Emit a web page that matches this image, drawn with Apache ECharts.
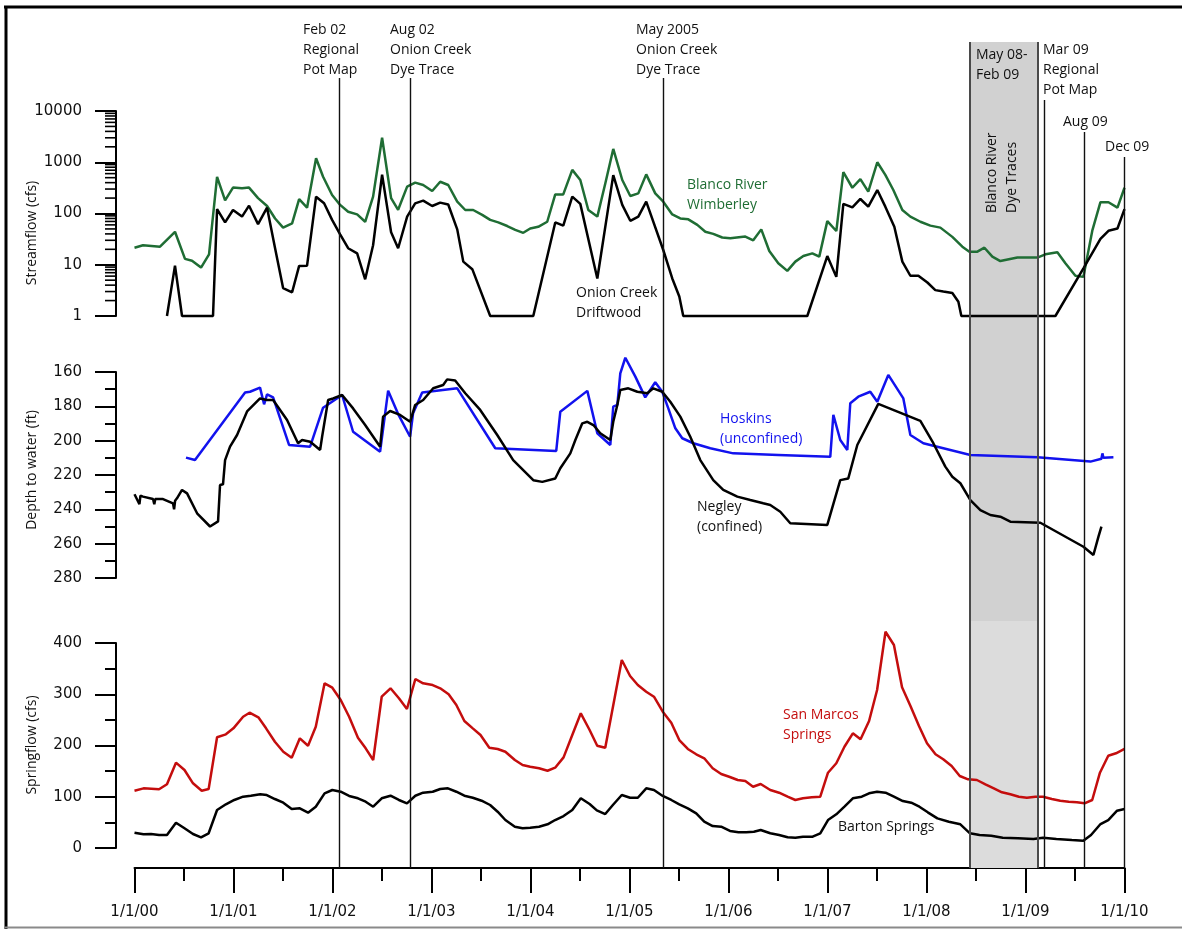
<!DOCTYPE html>
<html><head><meta charset="utf-8">
<script src="https://cdn.jsdelivr.net/npm/echarts@6/dist/echarts.min.js"></script>
<style>html,body{margin:0;padding:0;background:#fff}#c{width:1182px;height:929px}</style>
</head><body><div id="c"></div>
<script>
// ---------- DATA (x = decimal year) ----------
const xTickLabels = ['1/1/00','1/1/01','1/1/02','1/1/03','1/1/04','1/1/05','1/1/06','1/1/07','1/1/08','1/1/09','1/1/10'];
const streamTicks = [1,10,100,1000,10000];
const logMinorTicks = [2,3,4,5,6,7,8,9,20,30,40,50,60,70,80,90,200,300,400,500,600,700,800,900,2000,3000,4000,5000,6000,7000,8000,9000];

const blancoWimberley = [[2000.0,21.5],[2000.086,24],[2000.258,22.5],[2000.409,44],[2000.510,13],[2000.581,12],[2000.672,8.8],[2000.753,16],[2000.834,520],[2000.915,180],[2000.995,320],[2001.086,310],[2001.157,320],[2001.248,200],[2001.339,140],[2001.420,80],[2001.501,53],[2001.592,64],[2001.663,190],[2001.743,130],[2001.834,1200],[2001.905,520],[2001.996,230],[2002.077,147],[2002.158,108],[2002.249,96],[2002.330,69],[2002.410,213],[2002.501,3000],[2002.592,200],[2002.663,118],[2002.754,335],[2002.835,400],[2002.916,360],[2003.007,275],[2003.088,416],[2003.169,360],[2003.260,170],[2003.341,117],[2003.421,117],[2003.512,94],[2003.593,75],[2003.674,67],[2003.765,57],[2003.846,48],[2003.927,42],[2003.997,51],[2004.078,55],[2004.169,69],[2004.250,236],[2004.331,236],[2004.422,710],[2004.503,450],[2004.584,117],[2004.675,87],[2004.756,390],[2004.836,1820],[2004.927,450],[2005.008,220],[2005.089,247],[2005.169,580],[2005.260,247],[2005.341,170],[2005.432,96],[2005.513,80],[2005.594,77],[2005.685,60],[2005.766,44],[2005.846,40],[2005.937,34],[2006.018,33],[2006.170,35.5],[2006.250,30],[2006.331,49],[2006.412,18.5],[2006.503,10.7],[2006.594,7.6],[2006.675,11.5],[2006.756,14.8],[2006.847,16.7],[2006.917,14.4],[2006.998,71],[2007.089,45.5],[2007.160,640],[2007.251,318],[2007.332,470],[2007.412,267],[2007.503,1000],[2007.584,565],[2007.665,287],[2007.756,117],[2007.837,87],[2007.938,69],[2008.039,58],[2008.140,53],[2008.261,35],[2008.362,22.5],[2008.433,18],[2008.514,18],[2008.585,21.5],[2008.665,14.4],[2008.746,11.8],[2008.918,13.8],[2009.120,13.8],[2009.201,16],[2009.322,17.5],[2009.403,10.7],[2009.504,6.1],[2009.585,5.8],[2009.676,47.5],[2009.757,166],[2009.838,166],[2009.929,130],[2010.0,318]];

const onionDriftwood = [[2000.328,1],[2000.409,9.6],[2000.480,1],[2000.793,1],[2000.834,122],[2000.915,67],[2000.995,117],[2001.086,87],[2001.157,142],[2001.248,62],[2001.339,130],[2001.420,21],[2001.501,3.5],[2001.592,2.9],[2001.663,9.5],[2001.743,9.6],[2001.834,213],[2001.915,158],[2001.996,75],[2002.077,39],[2002.158,21],[2002.249,16.7],[2002.330,5.2],[2002.410,24],[2002.501,570],[2002.592,43],[2002.663,21],[2002.754,87],[2002.835,158],[2002.916,178],[2003.007,140],[2003.088,163],[2003.169,150],[2003.260,49],[2003.321,11.5],[2003.412,8.2],[2003.593,1],[2004.028,1],[2004.250,67],[2004.331,58],[2004.422,213],[2004.503,154],[2004.675,5.4],[2004.836,560],[2004.927,147],[2005.008,72],[2005.089,87],[2005.169,170],[2005.341,19.4],[2005.432,5.4],[2005.503,2.4],[2005.543,1],[2006.796,1],[2006.998,14.8],[2007.089,5.8],[2007.160,154],[2007.251,132],[2007.332,192],[2007.412,136],[2007.503,287],[2007.584,136],[2007.675,55],[2007.756,11.5],[2007.837,6.1],[2007.918,6.1],[2008.009,4.5],[2008.089,3.2],[2008.170,3.0],[2008.261,2.8],[2008.322,1.9],[2008.352,1],[2009.302,1],[2009.585,8.5],[2009.757,32],[2009.838,46],[2009.929,51],[2010.0,122]];

const negleyDepth = [[2000.0,231.2],[2000.05,237],[2000.06,232],[2000.086,232.6],[2000.187,234],[2000.20,237],[2000.21,234],[2000.288,234],[2000.389,236.5],[2000.40,240],[2000.41,235],[2000.429,233.6],[2000.480,228.7],[2000.531,230.7],[2000.632,242.3],[2000.763,250],[2000.844,247],[2000.864,225.8],[2000.894,225.4],[2000.915,211.3],[2000.965,203.5],[2001.036,196.7],[2001.137,183],[2001.268,175.4],[2001.339,176.3],[2001.400,176.3],[2001.541,188],[2001.652,201.5],[2001.693,199.6],[2001.774,200.6],[2001.824,203],[2001.875,205.4],[2001.895,197.7],[2001.956,176.3],[2002.006,175.4],[2002.097,173.4],[2002.208,181.2],[2002.330,190.9],[2002.481,203.5],[2002.511,186],[2002.582,182.7],[2002.683,185],[2002.784,189],[2002.835,179.2],[2002.916,176.3],[2003.017,169.5],[2003.118,167.6],[2003.158,164.3],[2003.239,165],[2003.341,172.4],[2003.492,182.1],[2003.664,196.7],[2003.825,211.3],[2004.028,223],[2004.119,224],[2004.250,222],[2004.301,216.1],[2004.402,207.4],[2004.453,199.6],[2004.523,189.9],[2004.574,189],[2004.635,190.9],[2004.705,195.7],[2004.806,199.6],[2004.836,189],[2004.877,179.2],[2004.907,170.5],[2004.988,169.5],[2005.079,171.5],[2005.180,172.4],[2005.240,169.5],[2005.331,171.5],[2005.412,177.3],[2005.513,186],[2005.614,197.7],[2005.715,211.3],[2005.846,223],[2005.947,228.7],[2006.089,232.6],[2006.220,234.6],[2006.351,236.5],[2006.422,237.5],[2006.523,241.4],[2006.624,248.1],[2006.998,249.1],[2007.129,223],[2007.210,222],[2007.301,202.5],[2007.513,178.6],[2007.938,188.5],[2008.069,201.5],[2008.190,215.1],[2008.261,221],[2008.342,224.8],[2008.443,234.6],[2008.544,240.4],[2008.645,243.3],[2008.746,244.3],[2008.847,247.2],[2009.150,247.8],[2009.585,261.8],[2009.686,266.6],[2009.737,255.9],[2009.767,250.1]];

const hoskinsDepth = [[2000.520,209.9],[2000.611,211.3],[2001.117,172],[2001.167,171.5],[2001.268,169.1],[2001.309,178.8],[2001.339,173],[2001.400,174.8],[2001.561,202.5],[2001.774,203.5],[2001.905,180.8],[2002.097,173.4],[2002.208,194.8],[2002.481,206.4],[2002.562,170.9],[2002.663,184.5],[2002.784,197.7],[2002.814,184],[2002.906,172],[2003.260,169.5],[2003.644,204.4],[2004.260,206],[2004.301,183.1],[2004.574,171],[2004.675,195.7],[2004.806,202.5],[2004.836,180.2],[2004.877,179.2],[2004.907,160.8],[2004.958,151.7],[2005.059,162.7],[2005.159,174.8],[2005.260,166],[2005.331,171.5],[2005.392,181.2],[2005.463,192.8],[2005.533,198.6],[2005.645,201.5],[2005.816,204.4],[2006.048,207.4],[2006.503,208.3],[2007.028,209.4],[2007.059,185],[2007.129,199.6],[2007.200,205.4],[2007.230,178.2],[2007.311,174.4],[2007.432,171.5],[2007.503,177.3],[2007.614,161.7],[2007.766,175.4],[2007.837,196.7],[2007.968,201.5],[2008.170,204.4],[2008.443,208.3],[2009.120,209.7],[2009.656,212.2],[2009.767,210.5],[2009.777,207.4],[2009.787,210],[2009.888,209.7]];

const sanMarcos = [[2000.0,111.8],[2000.091,116.4],[2000.248,114.5],[2000.328,124.3],[2000.419,166.5],[2000.505,152.2],[2000.591,126.2],[2000.679,111.8],[2000.749,115],[2000.834,216],[2000.923,221.8],[2000.999,233.5],[2001.097,256.2],[2001.162,264],[2001.251,255],[2001.329,233.5],[2001.418,207.4],[2001.503,187.9],[2001.588,176.2],[2001.670,214],[2001.753,199.6],[2001.831,236.7],[2001.920,321.3],[2001.998,312.8],[2002.083,288.8],[2002.168,256.2],[2002.257,215.2],[2002.335,194.5],[2002.411,171.7],[2002.497,295.2],[2002.586,311.6],[2002.671,292.1],[2002.752,271.2],[2002.837,329.7],[2002.915,321.3],[2003.012,318],[2003.088,311.6],[2003.173,299.9],[2003.251,279],[2003.332,247.8],[2003.417,233.5],[2003.495,220.5],[2003.584,195.7],[2003.668,193.2],[2003.746,187.9],[2003.842,171.7],[2003.920,161.9],[2003.997,158.6],[2004.086,155.5],[2004.172,150.8],[2004.249,156.7],[2004.334,176.9],[2004.422,220.5],[2004.508,262.8],[2004.597,230.2],[2004.674,199.6],[2004.755,195.7],[2004.922,366.8],[2005.006,335.6],[2005.084,318],[2005.169,305],[2005.247,295.2],[2005.336,266],[2005.422,244.5],[2005.503,210.7],[2005.589,193.2],[2005.674,182.8],[2005.755,175],[2005.840,155.5],[2005.926,144.4],[2006.007,139.1],[2006.093,132.7],[2006.170,130.7],[2006.248,119.6],[2006.325,124.9],[2006.422,113.2],[2006.511,107.9],[2006.597,100.1],[2006.675,93.7],[2006.752,97],[2006.842,98.9],[2006.927,100.1],[2007.005,146.9],[2007.089,165.3],[2007.171,197.6],[2007.256,223.8],[2007.334,212.1],[2007.420,247.8],[2007.501,308.3],[2007.586,422],[2007.671,396.1],[2007.753,313.5],[2007.838,277],[2007.924,238],[2008.005,204.3],[2008.091,182.8],[2008.169,173.1],[2008.254,160],[2008.336,140.5],[2008.420,134],[2008.509,132.7],[2008.595,124.3],[2008.680,116.5],[2008.762,108.7],[2008.847,104.8],[2008.933,100.1],[2009.014,98.1],[2009.100,100.1],[2009.177,100.1],[2009.266,95.6],[2009.351,92.3],[2009.437,90.3],[2009.519,89.2],[2009.596,87.2],[2009.674,93.7],[2009.752,146.9],[2009.836,180.1],[2009.914,184.8],[2010.0,193.2]];

const bartonSprings = [[2000.0,29.9],[2000.091,26.7],[2000.167,27.3],[2000.248,25.4],[2000.328,25.4],[2000.419,49.4],[2000.505,38.4],[2000.591,27.3],[2000.672,20.9],[2000.749,28.7],[2000.834,74.1],[2000.923,85.3],[2001.008,93.7],[2001.097,100.1],[2001.175,102],[2001.270,104.8],[2001.336,103.4],[2001.418,95.6],[2001.503,88.4],[2001.588,76.1],[2001.670,77.4],[2001.753,68.9],[2001.831,80.6],[2001.920,106.7],[2001.998,113.2],[2002.083,109.8],[2002.168,101.5],[2002.257,97],[2002.335,90.3],[2002.411,80.6],[2002.497,97],[2002.586,102],[2002.671,93.7],[2002.752,87.2],[2002.837,102],[2002.915,107.9],[2003.012,109.8],[2003.088,115.1],[2003.166,116.4],[2003.251,109.8],[2003.332,102],[2003.417,98.1],[2003.506,92.3],[2003.592,83.9],[2003.668,70.8],[2003.746,54.6],[2003.842,41.6],[2003.920,38.4],[2003.997,39.6],[2004.086,41.6],[2004.172,46.2],[2004.249,54.6],[2004.334,62.4],[2004.422,74.1],[2004.508,97],[2004.597,85.8],[2004.670,73.5],[2004.755,66.3],[2004.832,83.9],[2004.922,103.4],[2005.006,98.1],[2005.084,98.1],[2005.169,116.5],[2005.247,113.2],[2005.336,101.5],[2005.422,93.7],[2005.503,85.3],[2005.589,77.4],[2005.674,67.7],[2005.755,51.3],[2005.840,42.9],[2005.926,41.6],[2006.015,33.2],[2006.101,30.6],[2006.178,30.6],[2006.256,31.8],[2006.325,35.1],[2006.422,28.7],[2006.511,25.4],[2006.597,20.9],[2006.675,20.1],[2006.752,22],[2006.850,22],[2006.927,28.7],[2007.005,54.6],[2007.089,65.7],[2007.171,80.6],[2007.256,97],[2007.346,100.1],[2007.420,106.7],[2007.501,109.8],[2007.586,107.9],[2007.671,100.1],[2007.761,91.7],[2007.846,88.4],[2007.928,80.6],[2008.013,69.6],[2008.110,57.9],[2008.226,51.3],[2008.342,46.2],[2008.439,28.7],[2008.536,25.4],[2008.654,24],[2008.770,20.1],[2008.924,18.9],[2009.080,17.6],[2009.177,20.1],[2009.312,17.6],[2009.468,15.6],[2009.584,14.2],[2009.662,25.4],[2009.758,46.8],[2009.836,54.6],[2009.925,72.8],[2010.0,76.1]];

const eventDates = [2002.067, 2002.784, 2005.341, 2009.191, 2009.595, 2009.995];
const eventNames = ['Feb 02\nRegional\nPot Map','Aug 02\nOnion Creek\nDye Trace','May 2005\nOnion Creek\nDye Trace','Mar 09\nRegional\nPot Map','Aug 09','Dec 09'];
const dyeTraceSpan = [2008.433, 2009.120];
const dyeTraceName = 'May 08-\nFeb 09';
const dyeTraceLabel = 'Blanco River\nDye Traces';

// ---------- STYLE / LAYOUT ----------
const GREEN = '#1f6d34', BLUE = '#1212ee', RED = '#c40d0d';
const LEFT = 134.5, RIGHT = 57.5, YOFF = 18.5;
const eventTops = [78, 78, 78, 100, 132, 157];
const eventLabelPos = [[303,20],[390,20],[636,20],[1043,40],[1063,112],[1105,137]];
const AXIS_BOTTOM = 868;
const tickFont = {fontFamily:'DejaVu Sans', fontSize:15, color:'#111'};

const chart = echarts.init(document.getElementById('c'), null, {renderer:'canvas'});

function yAxisBase(grid) {
  return {
    gridIndex: grid, offset: YOFF,
    axisLine: {show:true, lineStyle:{color:'#000', width:2}},
    axisTick: {show:true, inside:false, length:21, lineStyle:{color:'#000', width:2}},
    axisLabel: Object.assign({margin:34, formatter: v => String(v)}, tickFont),
    splitLine: {show:false}
  };
}
function hiddenX(grid) {
  return {type:'value', gridIndex:grid, min:2000, max:2010, interval:1, show:false, splitLine:{show:false}};
}
function lineSeries(name, data, xi, color) {
  return {name, type:'line', xAxisIndex:xi, yAxisIndex:xi, z:3, clip:false, data, showSymbol:false,
    silent:true, lineStyle:{color, width:2.5}};
}

const overlayLines = eventDates.map((d,i)=>[{coord:[d, eventTops[i]]},{coord:[d, AXIS_BOTTOM]}]);
const bandEdges = dyeTraceSpan.map(d=>[{coord:[d, 42], lineStyle:{color:'#4a4a4a', width:2}},{coord:[d, AXIS_BOTTOM]}]);

const option = {
  animation: false,
  backgroundColor: '#fff',
  grid: [
    {left:LEFT, right:RIGHT, top:111, height:205},
    {left:LEFT, right:RIGHT, top:372, height:206},
    {left:LEFT, right:RIGHT, top:643, height:205},
    {left:LEFT, right:RIGHT, top:0, height:AXIS_BOTTOM}
  ],
  xAxis: [
    hiddenX(0), hiddenX(1),
    {
      type:'value', gridIndex:2, min:2000, max:2010, interval:1, offset:20,
      axisLine:{show:true, onZero:false, lineStyle:{color:'#000', width:2}},
      axisTick:{show:true, inside:false, length:25, lineStyle:{color:'#000', width:2}},
      minorTick:{show:true, splitNumber:2, length:13, lineStyle:{color:'#000', width:2}},
      axisLabel: Object.assign({margin:37, showMinLabel:true, showMaxLabel:true,
        formatter: v => xTickLabels[Math.round(v-2000)]}, tickFont),
      splitLine:{show:false}, minorSplitLine:{show:false}
    },
    hiddenX(3)
  ],
  yAxis: [
    Object.assign(yAxisBase(0), {type:'log', logBase:10, min:streamTicks[0], max:streamTicks[streamTicks.length-1]}),
    Object.assign(yAxisBase(1), {type:'value', min:160, max:280, interval:20, inverse:true,
      minorTick:{show:true, splitNumber:2, length:11, lineStyle:{color:'#000', width:2}}}),
    Object.assign(yAxisBase(2), {type:'value', min:0, max:400, interval:100,
      minorTick:{show:true, splitNumber:2, length:11, lineStyle:{color:'#000', width:2}}}),
    {type:'value', gridIndex:3, min:0, max:AXIS_BOTTOM, inverse:true, show:false, splitLine:{show:false}}
  ],
  series: [
    {
      type:'line', xAxisIndex:3, yAxisIndex:3, z:1, silent:true,
      data:[[2000, -10]], showSymbol:false, lineStyle:{opacity:0},
      markArea:{silent:true, data:[
        [{coord:[dyeTraceSpan[0], 42], itemStyle:{color:'#d1d1d1'}},{coord:[dyeTraceSpan[1], 621]}],
        [{coord:[dyeTraceSpan[0], 621], itemStyle:{color:'#dcdcdc'}},{coord:[dyeTraceSpan[1], AXIS_BOTTOM]}]
      ]},
      markLine:{silent:true, symbol:['none','none'], label:{show:false},
        lineStyle:{color:'#111', width:1.4, type:'solid'},
        data: overlayLines.concat(bandEdges)}
    },
    {
      type:'custom', xAxisIndex:0, yAxisIndex:0, z:3, clip:false, silent:true,
      data: logMinorTicks.map(v=>[2000, v]),
      renderItem: (params, api) => {
        const p = api.coord([api.value(0), api.value(1)]);
        const x = p[0] - YOFF;
        return {type:'line', shape:{x1:x-11, y1:p[1], x2:x, y2:p[1]}, style:{stroke:'#000', lineWidth:1.6}};
      }
    },
    lineSeries('Blanco River Wimberley', blancoWimberley, 0, GREEN),
    lineSeries('Onion Creek Driftwood', onionDriftwood, 0, '#000'),
    lineSeries('Hoskins (unconfined)', hoskinsDepth, 1, BLUE),
    lineSeries('Negley (confined)', negleyDepth, 1, '#000'),
    lineSeries('San Marcos Springs', sanMarcos, 2, RED),
    lineSeries('Barton Springs', bartonSprings, 2, '#000')
  ],
  graphic: [
    {type:'line', z:10, shape:{x1:4,y1:7,x2:1182,y2:7}, style:{stroke:'#000', lineWidth:3}},
    {type:'line', z:10, shape:{x1:6,y1:6,x2:6,y2:929}, style:{stroke:'#000', lineWidth:3}},
    {type:'line', z:10, shape:{x1:5,y1:927.5,x2:1182,y2:927.5}, style:{stroke:'#8a8a8a', lineWidth:2}},
    // axis names
    {type:'text', x:32, y:233, rotation:Math.PI/2, style:{text:'Streamflow (cfs)', font:'14px "Open Sans"', fill:'#111', align:'center', verticalAlign:'middle'}},
    {type:'text', x:32, y:470, rotation:Math.PI/2, style:{text:'Depth to water (ft)', font:'14px "Open Sans"', fill:'#111', align:'center', verticalAlign:'middle'}},
    {type:'text', x:32, y:745, rotation:Math.PI/2, style:{text:'Springflow (cfs)', font:'14px "Open Sans"', fill:'#111', align:'center', verticalAlign:'middle'}},
    // series labels
    {type:'text', x:687, y:175, style:{text:'Blanco River\nWimberley', font:'14px "Open Sans"', lineHeight:20, fill:GREEN, align:'left', verticalAlign:'top'}},
    {type:'text', x:576, y:283, style:{text:'Onion Creek\nDriftwood', font:'14px "Open Sans"', lineHeight:20, fill:'#111', align:'left', verticalAlign:'top'}},
    {type:'text', x:720, y:409, style:{text:'Hoskins\n(unconfined)', font:'14px "Open Sans"', lineHeight:20, fill:BLUE, align:'left', verticalAlign:'top'}},
    {type:'text', x:697, y:497, style:{text:'Negley\n(confined)', font:'14px "Open Sans"', lineHeight:20, fill:'#111', align:'left', verticalAlign:'top'}},
    {type:'text', x:783, y:705, style:{text:'San Marcos\nSprings', font:'14px "Open Sans"', lineHeight:20, fill:RED, align:'left', verticalAlign:'top'}},
    {type:'text', x:838, y:817, style:{text:'Barton Springs', font:'14px "Open Sans"', lineHeight:20, fill:'#111', align:'left', verticalAlign:'top'}},
    // event labels
    ...eventNames.map((t,i)=>({type:'text', x:eventLabelPos[i][0], y:eventLabelPos[i][1],
      style:{text:t, font:'14px "Open Sans"', lineHeight:20, fill:'#111', align:'left', verticalAlign:'top'}})),
    {type:'text', x:976, y:45, z:10, style:{text:dyeTraceName, font:'14px "Open Sans"', lineHeight:20, fill:'#111', align:'left', verticalAlign:'top'}},
    {type:'text', x:1002, y:213, z:10, rotation:Math.PI/2, style:{text:dyeTraceLabel, font:'14px "Open Sans"', lineHeight:20, fill:'#111', align:'left', verticalAlign:'middle'}}
  ]
};
chart.setOption(option);
</script></body></html>
